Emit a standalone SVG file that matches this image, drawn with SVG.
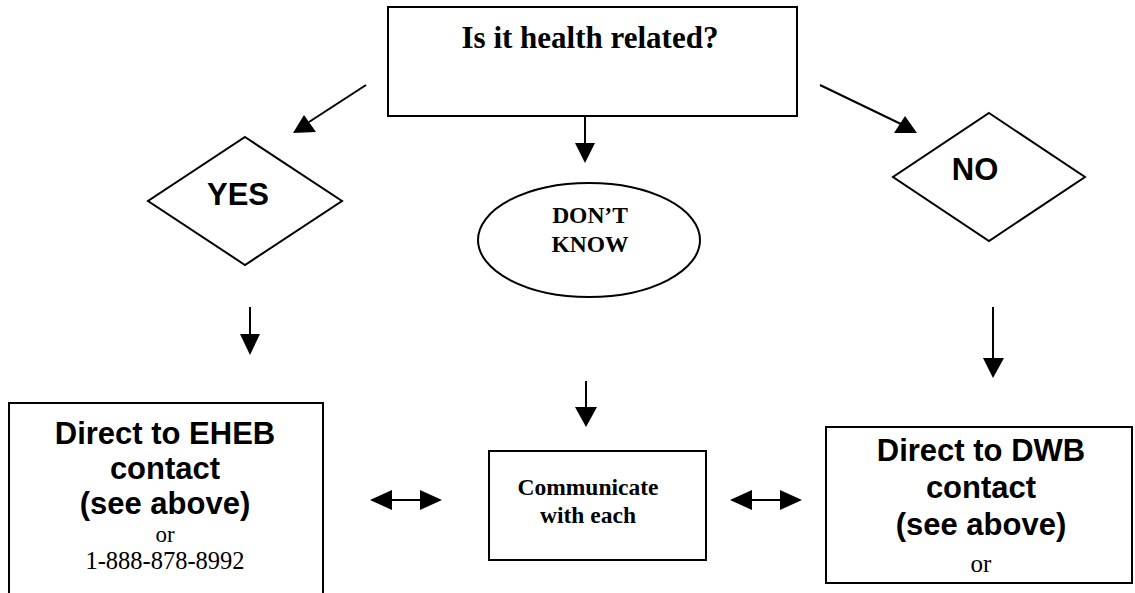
<svg xmlns="http://www.w3.org/2000/svg" width="1135" height="593" viewBox="0 0 1135 593">
<style>
.shape{fill:#fff;stroke:#000;stroke-width:2}
.ln{stroke:#000;stroke-width:2;fill:none}
.hd{fill:#000;stroke:none}
.tb{font-family:"Liberation Serif","Times New Roman",serif;font-weight:bold;fill:#000;text-anchor:middle}
.tr{font-family:"Liberation Serif","Times New Roman",serif;fill:#000;text-anchor:middle}
.ab{font-family:"Liberation Sans",Arial,sans-serif;font-weight:bold;fill:#000;text-anchor:middle}
</style>
<rect width="1135" height="593" fill="#fff"/>
<g id="question">
<rect class="shape" x="388" y="7" width="409" height="109"/>
<text class="tb" x="590" y="48" font-size="31">Is it health related?</text>
</g>
<g id="yes">
<polygon class="shape" points="245,137 342,201 245,265 148,201"/>
<text class="ab" x="238" y="205" font-size="31">YES</text>
</g>
<g id="no">
<polygon class="shape" points="989,113 1085,177 989,241 893,177"/>
<text class="ab" x="975" y="180" font-size="31">NO</text>
</g>
<g id="dontknow">
<ellipse class="shape" cx="589" cy="240" rx="111" ry="57"/>
<text class="tb" x="590" y="223" font-size="23.5">DON’T</text>
<text class="tb" x="590" y="252" font-size="23.5">KNOW</text>
</g>
<g id="eheb">
<path class="ln" d="M9,593 V403 H323 V593"/>
<text class="ab" x="165" y="444" font-size="31">Direct to EHEB</text>
<text class="ab" x="165" y="479" font-size="31">contact</text>
<text class="ab" x="165" y="514" font-size="31">(see above)</text>
<text class="tr" x="165" y="542" font-size="23">or</text>
<text class="tr" x="165" y="569" font-size="24.5">1-888-878-8992</text>
</g>
<g id="communicate">
<rect class="shape" x="489" y="451" width="217" height="109"/>
<text class="tb" x="588" y="495" font-size="23.5">Communicate</text>
<text class="tb" x="588" y="523" font-size="23.5">with each</text>
</g>
<g id="dwb">
<rect class="shape" x="826" y="427" width="306" height="156"/>
<text class="ab" x="981" y="461" font-size="31">Direct to DWB</text>
<text class="ab" x="981" y="498" font-size="31">contact</text>
<text class="ab" x="981" y="535" font-size="31">(see above)</text>
<text class="tr" x="981" y="572" font-size="25">or</text>
</g>
<g id="connectors">
<line class="ln" x1="585" y1="117" x2="585" y2="145"/>
<polygon class="hd" points="575,143 595,143 585,163"/>
<line class="ln" x1="366" y1="85" x2="309" y2="122"/>
<polygon class="hd" points="293,133 304,115 316,132"/>
<line class="ln" x1="820" y1="85" x2="903" y2="125"/>
<polygon class="hd" points="894,133 905,116 917,133"/>
<line class="ln" x1="250" y1="307" x2="250" y2="336"/>
<polygon class="hd" points="240,334 260,334 250,355"/>
<line class="ln" x1="993" y1="307" x2="993" y2="360"/>
<polygon class="hd" points="983,358 1004,358 993,378"/>
<line class="ln" x1="586" y1="381" x2="586" y2="409"/>
<polygon class="hd" points="575,407 597,407 586,427"/>
<line class="ln" x1="390" y1="500" x2="422" y2="500"/>
<polygon class="hd" points="370,500 392,490 392,510"/>
<polygon class="hd" points="442,500 420,490 420,510"/>
<line class="ln" x1="750" y1="500" x2="782" y2="500"/>
<polygon class="hd" points="730,500 752,490 752,510"/>
<polygon class="hd" points="802,500 780,490 780,510"/>
</g>
</svg>
